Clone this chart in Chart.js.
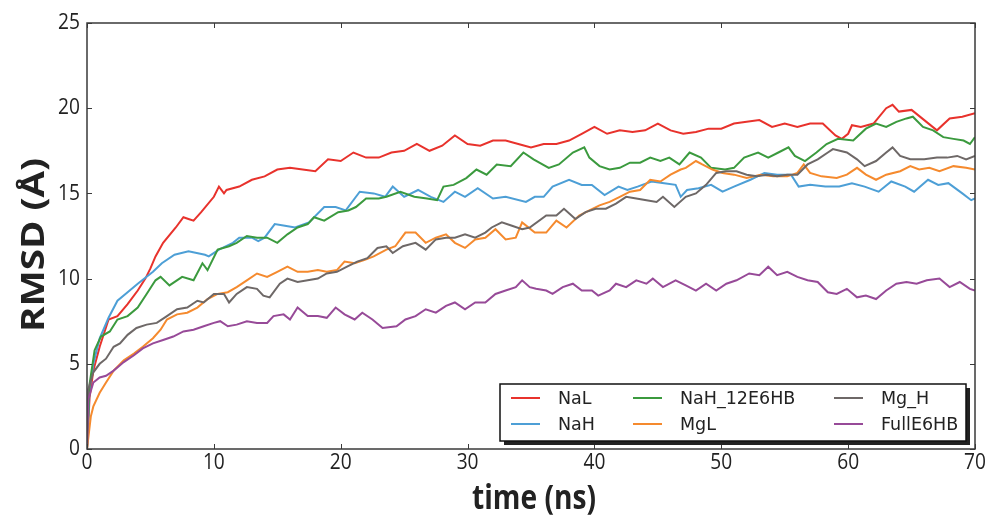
<!DOCTYPE html>
<html>
<head>
<meta charset="utf-8">
<script src="https://cdn.jsdelivr.net/npm/chart.js@4/dist/chart.umd.min.js"></script>
<style>
html,body{margin:0;padding:0;background:#fff;}
#wrap{width:991px;height:519px;position:relative;}
</style>
</head>
<body>
<div id="wrap"><canvas id="c" width="991" height="519"></canvas></div>
<script>
// ---- data ----
const seriesNames = ["NaL", "NaH", "NaH_12E6HB", "MgL", "Mg_H", "FullE6HB"];
const xTicks = [0, 10, 20, 30, 40, 50, 60, 70];
const yTicks = [0, 5, 10, 15, 20, 25];
const xTitle = "time (ns)";
const yTitle = "RMSD (Å)";

const tNaL = [0,0.2,0.5,1,1.7,2.4,3.2,4,4.6,5,5.4,6,7,7.6,8,8.4,9,10,10.4,10.8,11,12,13,14,15,16,17,18,19,20,21,22,23,24,25,26,27,28,29,30,31,32,33,34,35,36,37,38,39,40,41,42,43,44,45,46,47,48,49,50,51,52,53,54,55,56,57,58,59,59.5,60,60.3,61,62,63,63.5,64,65,66,67,68,69,70];
const vNaL = [0,3.0,4.6,6.0,7.6,7.8,8.5,9.3,10.0,10.6,11.3,12.1,13.0,13.6,13.5,13.4,13.9,14.8,15.4,15.0,15.2,15.4,15.8,16.0,16.4,16.5,16.4,16.3,17.0,16.9,17.4,17.1,17.1,17.4,17.5,17.9,17.5,17.8,18.4,17.9,17.8,18.1,18.1,17.9,17.7,17.9,17.9,18.1,18.5,18.9,18.5,18.7,18.6,18.7,19.1,18.7,18.5,18.6,18.8,18.8,19.1,19.2,19.3,18.9,19.1,18.9,19.1,19.1,18.4,18.2,18.5,19.0,18.9,19.1,20.0,20.2,19.8,19.9,19.3,18.7,19.4,19.5,19.7];

const tNaH = [0,0.2,0.5,1,1.7,2.4,3.2,4,5.2,5.9,6.9,8,9.3,9.6,10.4,11.5,12,13,13.5,14,14.8,15.6,16.4,17.5,18.7,19.6,20.4,21.5,22.6,23.5,24.1,25,26.1,27.1,28.1,29,29.8,30.8,32,33,34.6,35.3,36,36.7,38,39,39.8,40.8,41.9,42.6,43.4,44.5,45.5,46.4,46.8,47.3,48.2,49.2,50.1,51,52.3,53.4,54.4,55.5,56.1,57,58.2,59.3,60.3,61.3,62.4,63.4,64.5,65.2,66.3,67.1,67.9,69,69.7,70];
const vNaH = [0,3.5,5.0,6.5,7.7,8.7,9.2,9.7,10.4,10.9,11.4,11.6,11.4,11.3,11.7,12.1,12.4,12.4,12.2,12.4,13.2,13.1,13.0,13.3,14.2,14.2,14.0,15.1,15.0,14.8,15.4,14.8,15.2,14.8,14.5,15.1,14.8,15.3,14.7,14.8,14.5,14.8,14.8,15.4,15.8,15.5,15.5,14.9,15.4,15.2,15.4,15.7,15.6,15.5,14.8,15.2,15.3,15.5,15.1,15.4,15.8,16.2,16.1,16.1,15.4,15.5,15.4,15.4,15.6,15.4,15.1,15.7,15.4,15.1,15.8,15.5,15.6,15.0,14.6,14.7];

const tNaH12 = [0,0.2,0.6,1.1,1.8,2.4,3.2,4,4.7,5.4,5.8,6.5,7.5,8.4,9.1,9.5,10.3,11.2,11.8,12.6,13.4,14.2,15,15.8,16.6,17.4,17.9,18.7,19.8,20.6,21.2,22,23,23.6,24.7,25.8,26.8,27.6,28.1,28.9,29.9,30.7,31.5,32.3,33.4,34.4,35.2,36.4,37.2,38.3,39.2,39.6,40.4,41.2,42,42.8,43.6,44.4,45.2,45.9,46.7,47.5,48.4,49.2,50.3,51,51.8,52.9,53.7,54.5,55.3,55.8,56.6,57.5,58.3,59.2,60.4,61.4,62.2,63,63.8,64.6,65.1,65.9,66.7,67.5,68.3,69.1,69.6,70];
const vNaH12 = [0,3.8,5.8,6.6,6.9,7.6,7.8,8.3,9.1,9.9,10.1,9.6,10.1,9.9,10.9,10.5,11.7,11.9,12.1,12.5,12.4,12.4,12.1,12.6,13.0,13.2,13.6,13.4,13.9,14.0,14.2,14.7,14.7,14.8,15.1,14.8,14.7,14.6,15.4,15.5,15.9,16.4,16.1,16.7,16.6,17.4,17.0,16.5,16.7,17.4,17.7,17.1,16.6,16.4,16.5,16.8,16.8,17.1,16.9,17.1,16.7,17.4,17.1,16.5,16.4,16.5,17.1,17.4,17.1,17.4,17.7,17.2,16.9,17.4,17.9,18.2,18.1,18.8,19.1,18.9,19.2,19.4,19.5,18.9,18.7,18.3,18.2,18.1,17.9,18.3];

const tMgL = [0,0.3,0.5,1,1.5,2.1,2.9,3.7,4.4,5.2,5.8,6.3,7.1,7.9,8.7,9.5,10.3,11.1,11.8,12.6,13.4,14.2,15,15.8,16.6,17.4,18.2,18.9,19.7,20.3,21.1,21.9,22.6,23.6,24.3,25.1,25.9,26.7,27.5,28.3,29,29.8,30.6,31.4,32.2,33,33.8,34.3,35.3,36.2,37,37.8,38.8,39.6,40.4,41.2,42,42.8,43.6,44.4,45.2,46,46.8,47.2,48,48.5,49.3,50.1,51,52,53.1,54.1,55.2,56,56.5,57,57.9,59.1,59.9,60.7,61.4,62.2,63,64.1,64.9,65.6,66.4,67.2,68.3,69.3,70];
const vMgL = [0,1.9,2.5,3.3,3.9,4.6,5.2,5.6,6.0,6.5,7.0,7.6,7.9,8.0,8.3,8.8,9.1,9.2,9.5,9.9,10.3,10.1,10.4,10.7,10.4,10.4,10.5,10.4,10.5,11.0,10.9,11.1,11.3,11.7,11.9,12.7,12.7,12.1,12.4,12.6,12.1,11.8,12.3,12.4,12.9,12.3,12.4,13.3,12.7,12.7,13.4,13.0,13.7,14.0,14.3,14.5,14.8,15.1,15.2,15.8,15.7,16.1,16.4,16.5,16.9,16.7,16.4,16.2,16.1,15.9,16.1,16.0,16.0,16.2,16.7,16.2,16.0,15.9,16.1,16.5,16.1,15.8,16.1,16.3,16.6,16.4,16.5,16.3,16.6,16.5,16.4];

const tMgH = [0,0.1,0.5,1,1.5,2.1,2.6,3.2,3.9,4.7,5.5,6.3,7.1,7.9,8.7,9.2,10,10.8,11.2,11.8,12.6,13.4,13.9,14.4,15.2,15.8,16.6,17.4,18.2,18.9,19.7,20.5,21.3,22.1,22.9,23.6,24.1,24.9,25.9,26.7,27.5,28.3,29,29.8,30.6,31.4,31.9,32.7,33.5,34.3,34.9,36.2,37,37.6,38.5,39.3,40.1,40.9,41.7,42.5,43.3,44.1,44.9,45.4,46.3,47.2,48,48.8,49.6,50.4,51.2,52,52.8,53.6,54.4,55.2,56,56.8,57.6,58.4,58.8,59.9,60.7,61.3,62.2,63,63.5,64.1,64.9,66,67,67.8,68.6,69.3,70];
const vMgH = [0,3.5,4.5,5.0,5.3,6.0,6.2,6.7,7.1,7.3,7.4,7.8,8.2,8.3,8.7,8.6,9.1,9.1,8.6,9.1,9.5,9.4,9.0,8.9,9.7,10.0,9.8,9.9,10.0,10.3,10.4,10.7,11.0,11.2,11.8,11.9,11.5,11.9,12.1,11.7,12.3,12.4,12.4,12.6,12.4,12.7,13.0,13.3,13.1,12.9,13.0,13.7,13.7,14.1,13.5,13.9,14.1,14.1,14.4,14.8,14.7,14.6,14.5,14.8,14.2,14.8,15.0,15.5,16.2,16.3,16.3,16.1,16.0,16.1,16.0,16.1,16.1,16.7,17.0,17.4,17.6,17.4,17.0,16.6,16.9,17.4,17.7,17.2,17.0,17.0,17.1,17.1,17.2,17.0,17.2];

const tFull = [0,0.1,0.5,1,1.5,2.1,2.9,3.7,4.4,5.2,6,6.8,7.6,8.4,9.2,10,10.5,11.1,11.8,12.6,13.4,14.2,14.7,15.5,16,16.6,17.4,18.2,18.9,19.6,20.3,21.1,21.7,22.5,23.3,24.4,25.1,25.9,26.7,27.5,28.3,29,29.8,30.6,31.4,32.2,33,33.8,34.3,34.9,35.4,36.2,36.7,37.5,38.3,39,39.8,40.3,41.2,41.7,42.5,43.3,44.1,44.6,45.4,46.4,47.2,48,48.8,49.6,50.4,51.2,52.2,53,53.7,54.4,55.2,56,56.8,57.6,58.4,59.1,59.9,60.7,61.4,62.2,63,63.8,64.6,65.4,66.2,67.2,68,68.8,69.6,70];
const vFull = [0,2.9,3.9,4.2,4.3,4.6,5.1,5.5,5.9,6.2,6.4,6.6,6.9,7.0,7.2,7.4,7.5,7.2,7.3,7.5,7.4,7.4,7.8,7.9,7.6,8.3,7.8,7.8,7.7,8.3,7.9,7.6,8.0,7.6,7.1,7.2,7.6,7.8,8.2,8.0,8.4,8.6,8.2,8.6,8.6,9.1,9.3,9.5,9.9,9.5,9.4,9.3,9.1,9.5,9.7,9.3,9.3,9.0,9.3,9.7,9.5,9.9,9.7,10.0,9.5,9.9,9.6,9.3,9.7,9.3,9.7,9.9,10.3,10.2,10.7,10.2,10.4,10.1,9.9,9.8,9.2,9.1,9.4,8.9,9.0,8.8,9.3,9.7,9.8,9.7,9.9,10.0,9.5,9.8,9.4,9.3];

const seriesT = [tNaL, tNaH, tNaH12, tMgL, tMgH, tFull];
const seriesV = [vNaL, vNaH, vNaH12, vMgL, vMgH, vFull];
const colors = ["#e8322c", "#4d9fd6", "#3b9a3e", "#f58a2e", "#6e6867", "#974a98"];

// ---- build datasets ----
const datasets = seriesNames.map((name, i) => ({
  label: name,
  data: seriesT[i].map((t, k) => ({x: t, y: seriesV[i][k]})),
  borderColor: colors[i],
  backgroundColor: colors[i],
  borderWidth: 2,
  pointRadius: 0,
  tension: 0,
  fill: false,
  order: seriesNames.length - i
}));

function squeezedText(ctx, text, x, y, sx, rot) {
  ctx.save();
  ctx.translate(x, y);
  ctx.scale(sx, 1);
  if (rot) ctx.rotate(rot);
  ctx.fillText(text, 0, 0);
  ctx.restore();
}

const frameAndTicks = {
  id: 'frameAndTicks',
  afterDatasetsDraw(chart) {
    const {ctx, chartArea: a, scales: {x, y}} = chart;
    ctx.save();
    ctx.strokeStyle = '#3a3a3a';
    ctx.lineWidth = 1;
    const tl = 5;
    ctx.beginPath();
    xTicks.forEach(v => {
      const px = Math.round(x.getPixelForValue(v)) + 0.5;
      ctx.moveTo(px, a.bottom); ctx.lineTo(px, a.bottom - tl);
      ctx.moveTo(px, a.top); ctx.lineTo(px, a.top + tl);
    });
    yTicks.forEach(v => {
      const py = Math.round(y.getPixelForValue(v)) + 0.5;
      ctx.moveTo(a.left, py); ctx.lineTo(a.left + tl, py);
      ctx.moveTo(a.right, py); ctx.lineTo(a.right - tl, py);
    });
    ctx.stroke();
    ctx.lineWidth = 1.5;
    ctx.strokeStyle = '#3a3a3a';
    ctx.strokeRect(a.left, a.top, a.right - a.left, a.bottom - a.top);

    // tick labels (slightly condensed like the reference)
    ctx.fillStyle = '#222';
    ctx.font = '22px "Open Sans"';
    ctx.textBaseline = 'middle';
    ctx.textAlign = 'right';
    yTicks.forEach(v => squeezedText(ctx, String(v), a.left - 7, y.getPixelForValue(v), 0.87));
    ctx.textAlign = 'center';
    xTicks.forEach(v => squeezedText(ctx, String(v), x.getPixelForValue(v), a.bottom + 14, 0.87));

    // axis titles
    ctx.font = 'bold 34px "Open Sans"';
    ctx.textAlign = 'center';
    ctx.textBaseline = 'alphabetic';
    const wx = ctx.measureText(xTitle).width;
    squeezedText(ctx, xTitle, (a.left + a.right) / 2 + 3, 509, 124 / wx);
    const wy = ctx.measureText(yTitle).width;
    ctx.font = 'bold ' + (34 * 174 / wy).toFixed(1) + 'px "Open Sans"';
    ctx.textBaseline = 'middle';
    squeezedText(ctx, yTitle, 35, (a.top + a.bottom) / 2 + 9, 0.82, -Math.PI / 2);
    ctx.restore();
  },
  afterDraw(chart) {
    const {ctx} = chart;
    ctx.save();
    const bx = 500, by = 384, bw = 466, bh = 57;
    ctx.fillStyle = '#222';
    ctx.fillRect(bx + 4, by + 4, bw, bh);
    ctx.fillStyle = '#fff';
    ctx.fillRect(bx, by, bw, bh);
    ctx.lineWidth = 1.5;
    ctx.strokeStyle = '#111';
    ctx.strokeRect(bx, by, bw, bh);
    const colX = [511, 633, 834];
    const rowY = [398, 424];
    ctx.font = '17.5px "DejaVu Sans"';
    ctx.textBaseline = 'middle';
    ctx.textAlign = 'left';
    seriesNames.forEach((name, i) => {
      const c = Math.floor(i / 2), r = i % 2;
      ctx.strokeStyle = colors[i];
      ctx.lineWidth = 2;
      ctx.beginPath();
      ctx.moveTo(colX[c], rowY[r]);
      ctx.lineTo(colX[c] + 29, rowY[r]);
      ctx.stroke();
      ctx.fillStyle = '#222';
      ctx.fillText(name, colX[c] + 47, rowY[r] + 1);
    });
    ctx.restore();
  }
};

new Chart(document.getElementById('c'), {
  type: 'line',
  data: {datasets},
  options: {
    responsive: false,
    animation: false,
    devicePixelRatio: 1,
    layout: {padding: {left: 0, top: 23, right: 16, bottom: 0}},
    plugins: {legend: {display: false}, tooltip: {enabled: false}},
    scales: {
      x: {
        type: 'linear', min: 0, max: 70,
        afterBuildTicks: s => { s.ticks = xTicks.map(v => ({value: v})); },
        afterFit: s => { s.height = 70; },
        grid: {display: false, drawTicks: false},
        border: {display: false},
        ticks: {display: false}
      },
      y: {
        type: 'linear', min: 0, max: 25,
        afterBuildTicks: s => { s.ticks = yTicks.map(v => ({value: v})); },
        afterFit: s => { s.width = 87; },
        grid: {display: false, drawTicks: false},
        border: {display: false},
        ticks: {display: false}
      }
    }
  },
  plugins: [frameAndTicks]
});
</script>
</body>
</html>
